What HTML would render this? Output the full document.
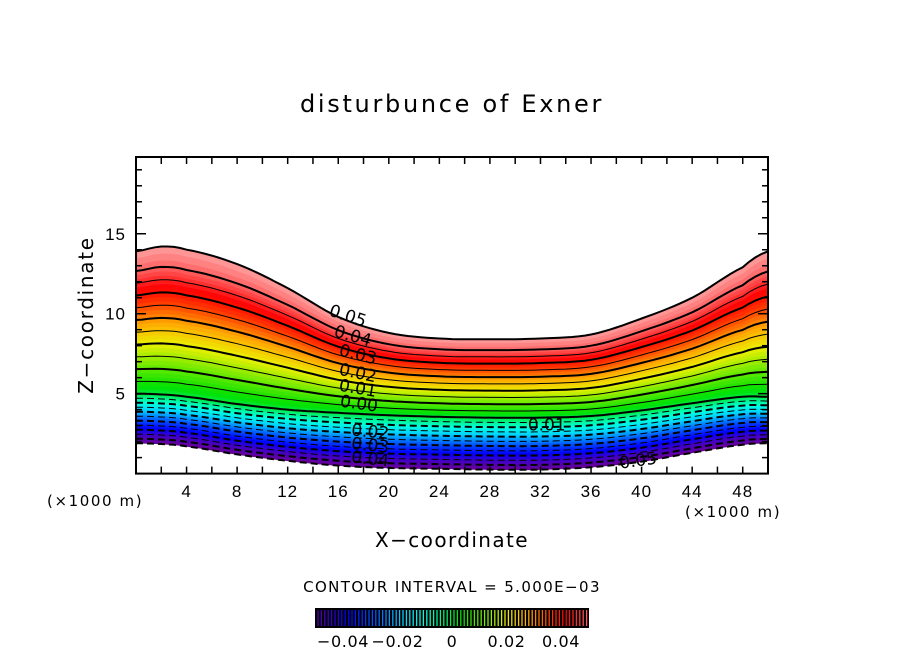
<!DOCTYPE html>
<html><head><meta charset="utf-8">
<style>
html,body{margin:0;padding:0;background:#fff;}
svg{display:block;font-family:"DejaVu Sans","Liberation Sans",sans-serif;}
</style></head>
<body>
<svg id="chart" width="904" height="654" viewBox="0 0 904 654" xmlns="http://www.w3.org/2000/svg">
<text x="452" y="112" font-size="24" letter-spacing="2.7" text-anchor="middle">disturbunce of Exner</text>
<g id="plot"></g>
<g id="axes"></g>
<text x="0" y="0" font-size="20" letter-spacing="1.7" text-anchor="middle" transform="translate(93,315) rotate(-90)">Z−coordinate</text>
<text x="47" y="506" font-size="15" letter-spacing="1.6">(×1000 m)</text>
<text x="685" y="517" font-size="15" letter-spacing="1.6">(×1000 m)</text>
<text x="452" y="547" font-size="20" letter-spacing="1.4" text-anchor="middle">X−coordinate</text>
<text x="452" y="592" font-size="15" letter-spacing="1.4" text-anchor="middle">CONTOUR INTERVAL = 5.000E−03</text>
<g id="cbar"></g>
</svg>
<script>
// ---- data ----
const profileX = [0, 2, 4, 8, 12, 16, 20, 24, 28, 32, 36, 40, 44, 48, 50];
const bottomZ  = [1.9, 1.85, 1.7, 1.2, 0.8, 0.5, 0.35, 0.3, 0.25, 0.25, 0.4, 0.75, 1.3, 1.8, 1.9];
const topZ     = [13.9, 14.2, 14.0, 13.1, 11.6, 9.8, 8.8, 8.45, 8.4, 8.45, 8.7, 9.7, 11.0, 12.9, 13.9];
const negThick = [3.1, 3.1, 3.1, 3.15, 3.2, 3.3, 3.3, 3.25, 3.25, 3.25, 3.2, 3.2, 3.1, 3.0, 2.9];
const levels = [-0.055,-0.05,-0.045,-0.04,-0.035,-0.03,-0.025,-0.02,-0.015,-0.01,-0.005,0,0.005,0.01,0.015,0.02,0.025,0.03,0.035,0.04,0.045,0.05,0.058];
const xTicks = [4,8,12,16,20,24,28,32,36,40,44,48];
const yTicks = [5,10,15];
const cbarTicks = [-0.04,-0.02,0,0.02,0.04];
const cbarLabels = ["−0.04","−0.02","0","0.02","0.04"];
const contourLabels = [
 {t:"0.05",x:15.2,z:9.9,r:18},{t:"0.04",x:15.6,z:8.6,r:16},{t:"0.03",x:16.0,z:7.4,r:14},
 {t:"0.02",x:16.0,z:6.2,r:12},{t:"0.01",x:16.0,z:5.2,r:10},{t:"0.00",x:16.1,z:4.2,r:8},
 {t:"0.02",x:17.0,z:2.4,r:6},{t:"0.03",x:17.0,z:1.55,r:6},{t:"0.04",x:17.0,z:0.7,r:6},
 {t:"0.01",x:31.0,z:2.7,r:0},{t:"0.05",x:38.3,z:0.3,r:-8}
];
// ---- scales ----
const X0=136,X1=768,Y0=473.6,Y1=157;
const sx=v=>X0+(v-0)/50*(X1-X0);
const sz=v=>Y0-(v-0)/19.8*(Y0-Y1);
function interp(xs,ys,x){
  let i=0; while(i<xs.length-2 && x>xs[i+1]) i++;
  const p0=ys[Math.max(i-1,0)],p1=ys[i],p2=ys[i+1],p3=ys[Math.min(i+2,ys.length-1)];
  const t=(x-xs[i])/(xs[i+1]-xs[i]);
  return 0.5*((2*p1)+(-p0+p2)*t+(2*p0-5*p1+4*p2-p3)*t*t+(-p0+3*p1-3*p2+p3)*t*t*t);
}
function zOf(L,x){
  const b=interp(profileX,bottomZ,x), t=interp(profileX,topZ,x), n=interp(profileX,negThick,x);
  if(L<=0) return b+n*(L+0.055)/0.055;
  return b+n+(t-b-n)*L/0.058;
}
const stops=[[-0.055,[110,0,150]],[-0.045,[60,0,200]],[-0.038,[0,0,255]],[-0.028,[0,90,255]],[-0.018,[0,210,255]],[-0.01,[0,255,220]],[-0.003,[0,240,120]],[0.003,[0,225,0]],[0.012,[120,235,0]],[0.02,[235,240,0]],[0.028,[255,170,0]],[0.036,[255,60,0]],[0.042,[255,0,0]],[0.05,[255,100,100]],[0.058,[255,160,160]]];
function cmap(v){
  for(let i=0;i<stops.length-1;i++){ if(v<=stops[i+1][0]){ const a=stops[i],b=stops[i+1]; const t=Math.max(0,(v-a[0])/(b[0]-a[0]));
    return `rgb(${a[1].map((c,k)=>Math.round(c+(b[1][k]-c)*t)).join(',')})`; } }
  return 'rgb(255,160,160)';
}
const NS='http://www.w3.org/2000/svg';
function el(tag,attrs,parent){ const e=document.createElementNS(NS,tag); for(const k in attrs) e.setAttribute(k,attrs[k]); parent.appendChild(e); return e; }
const plot=document.getElementById('plot');
const xs=[]; for(let x=0;x<=50.001;x+=0.5) xs.push(x);
function curve(L){ return xs.map(x=>[sx(x),sz(zOf(L,x))]); }
// bands (subdivided for smooth shading)
for(let i=0;i<levels.length-1;i++){
  const SUB=3;
  for(let s=0;s<SUB;s++){
    const a=levels[i]+(levels[i+1]-levels[i])*s/SUB, b=levels[i]+(levels[i+1]-levels[i])*(s+1)/SUB;
    const lo=curve(a), hi=curve(b).reverse();
    const col=cmap((a+b)/2);
    const d='M'+lo.concat(hi).map(p=>p[0].toFixed(1)+','+p[1].toFixed(1)).join('L')+'Z';
    const p=el('path',{d:d,fill:col,stroke:col,'stroke-width':0.6},plot);
    
    
  }
}
// lines
for(let i=0;i<levels.length;i++){
  const L=levels[i]; const c=curve(L);
  const thick = Math.abs(Math.round(L*1000)%10)===0 || i===0 || i===levels.length-1;
  const a={d:'M'+c.map(p=>p[0].toFixed(1)+','+p[1].toFixed(1)).join('L'),fill:'none',stroke:'#000','stroke-width':thick?2:1};
  if(L<0) a['stroke-dasharray']='7,4';
  const p=el('path',a,plot);
  
  
}
for(const cl of contourLabels){
  const t=el('text',{x:0,y:0,'font-size':17,transform:`translate(${sx(cl.x)},${sz(cl.z)}) rotate(${cl.r})`},plot);
  t.textContent=cl.t;
  
  
}
// axes
const ax=document.getElementById('axes');
const fr=el('rect',{x:X0,y:Y1,width:X1-X0,height:Y0-Y1,fill:'none',stroke:'#000','stroke-width':2},ax);


for(let v=2;v<50;v+=2){
  el('line',{x1:sx(v),x2:sx(v),y1:Y0,y2:Y0-7,stroke:'#000','stroke-width':1.5},ax);
  el('line',{x1:sx(v),x2:sx(v),y1:Y1,y2:Y1+7,stroke:'#000','stroke-width':1.5},ax);
}
for(let v=1;v<20;v++){
  const len=v%5===0?10:6;
  el('line',{x1:X0,x2:X0+len,y1:sz(v),y2:sz(v),stroke:'#000','stroke-width':1.5},ax);
  el('line',{x1:X1,x2:X1-len,y1:sz(v),y2:sz(v),stroke:'#000','stroke-width':1.5},ax);
}
for(const v of xTicks){
  const t=el('text',{x:sx(v),y:497,'font-size':17,'font-family':'Liberation Sans, sans-serif','letter-spacing':1,'text-anchor':'middle'},ax);
  t.textContent=v;
  
  
}
for(const v of yTicks){
  const t=el('text',{x:126,y:sz(v)+6,'font-size':17,'font-family':'Liberation Sans, sans-serif','letter-spacing':1,'text-anchor':'end'},ax);
  t.textContent=v;
  
  
}
// colorbar
const cb=document.getElementById('cbar');
const CB0=315,CB1=589;
const cv=v=>452+v/0.02*54.5;
const bg=el('rect',{x:CB0,y:608,width:CB1-CB0,height:20,fill:'#000'},cb);


for(let x=CB0+3;x<CB1-1;x+=3.4){
  const v=(x-452)/54.5*0.02;
  el('line',{x1:x,x2:x,y1:610,y2:626,stroke:cmap(v),'stroke-width':1.3},cb);
}
cbarTicks.forEach((v,i)=>{
  const t=el('text',{x:cv(v),y:647,'font-size':16,'letter-spacing':0.6,'text-anchor':'middle'},cb);
  t.textContent=cbarLabels[i];
  
  
});
</script>
</body></html>
